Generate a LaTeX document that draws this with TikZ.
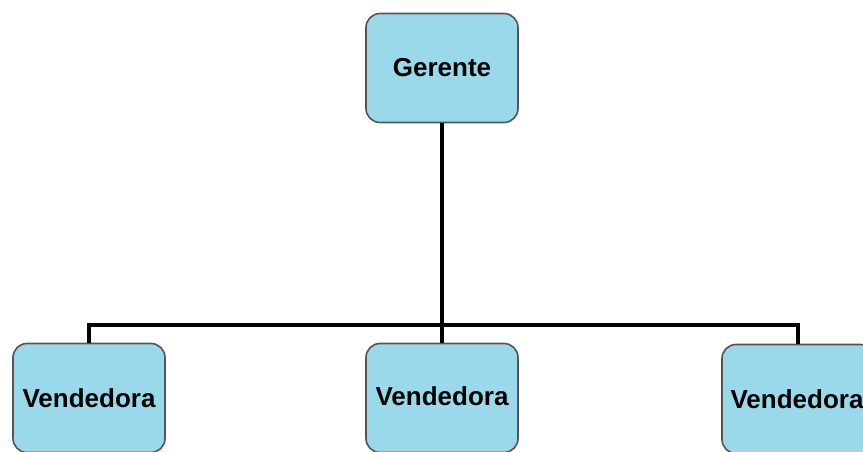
\documentclass[tikz,border=0pt]{standalone}
\usepackage{fontspec}
\setmainfont{Liberation Sans}
\definecolor{boxblue}{RGB}{153,217,234}
\definecolor{boxedge}{RGB}{85,85,85}
\begin{document}
\begin{tikzpicture}[x=1pt,y=-1pt,
  box/.style={draw=boxedge, line width=1.6pt, fill=boxblue, rounded corners=14pt,
    minimum width=152pt, minimum height=109pt, inner sep=0pt,
    font=\bfseries\fontsize{26}{31}\selectfont},
  link/.style={line width=3.4pt, black}]
\path[use as bounding box] (0,0) rectangle (863,452);
\clip (0,0) rectangle (863,452);
\node[box] (g) at (442,68) {Gerente};
\node[box] (v1) at (89,398) {Vendedora};
\node[box] (v2) at (442,398) {\raisebox{3pt}{Vendedora}};
\node[box] (v3) at (798,399) {\raisebox{-2pt}{\hspace{-2pt}Vendedora}};
\coordinate (bar) at (442,325);
\draw[link] (g.south) -- (v2.north);
\draw[link] (v1.north) |- (bar) -| (v3.north);
\end{tikzpicture}
\end{document}
